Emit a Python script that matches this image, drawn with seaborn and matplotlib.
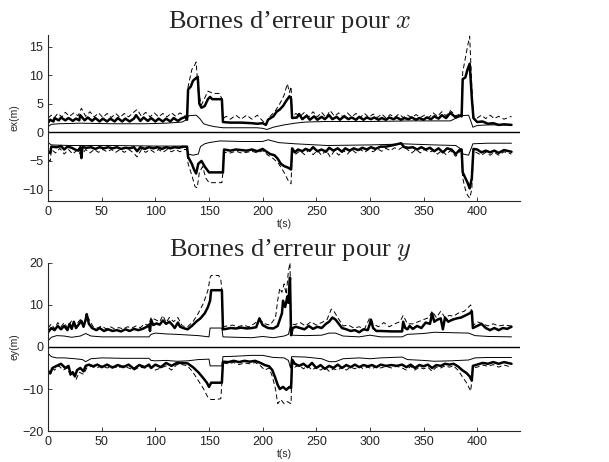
import numpy as np
import pandas as pd
import seaborn as sns
import matplotlib
matplotlib.use("Agg")
import matplotlib.pyplot as plt

# ---- x error bounds (t in s, value in m) ----
ex_hi = [(0,1.7),(2,2.2),(5,1.9),(6,2.5),(10,2.1),(12,2.6),(16,2.1),(19,2.5),(23,2.0),(26,2.4),(29,2.1),(30,3.0),(34,2.1),(37,2.6),(41,2.0),(44,2.5),(48,1.9),(51,2.4),(55,1.9),(58,2.4),(62,1.9),(65,2.5),(69,1.9),(72,2.4),(76,1.9),(80,2.4),(82,3.0),(86,2.0),(89,2.6),(93,2.0),(96,2.5),(100,1.9),(103,2.4),(107,1.9),(110,2.4),(114,1.9),(117,2.5),(121,2.0),(124,2.4),(128,2.7),(129.5,2.2),(130.5,7.5),(133,8.0),(135,9.0),(138,9.5),(139.5,9.7),(141,5.0),(143,4.3),(146,4.6),(149,5.8),(151,6.2),(153,5.8),(162,5.8),(163,1.8),(170,1.7),(180,1.7),(190,1.6),(195,1.5),(200,1.6),(203,1.3),(205,2.2),(210,2.8),(213,3.6),(216,4.0),(219,4.6),(222,5.5),(225,6.3),(226.5,5.9),(227.5,2.5),(232,2.6),(234,3.2),(237,2.3),(241,2.9),(244,2.2),(248,2.8),(251,2.2),(255,2.7),(258,2.3),(262,3.0),(265,2.3),(269,2.7),(272,2.2),(276,2.8),(280,2.3),(283,2.6),(287,2.2),(290,2.7),(294,2.2),(297,2.6),(301,2.3),(304,2.6),(308,2.2),(311,2.5),(315,2.2),(318,2.6),(322,2.3),(325,2.6),(329,2.2),(332,2.5),(336,2.3),(339,2.6),(343,2.2),(346,2.5),(350,2.2),(353,2.6),(357,2.3),(360,2.8),(364,2.4),(367,3.0),(371,2.5),(375,3.4),(380,2.6),(384,2.9),(385.5,2.8),(386.5,9.3),(389,9.6),(391,11.0),(393,12.0),(395,6.0),(396.5,2.5),(400,1.8),(405,1.9),(410,1.5),(415,1.6),(420,1.3),(425,1.4),(432,1.3)]
ex_hi_thin = [(0,1.0),(3,1.4),(10,1.5),(30,1.6),(60,1.5),(90,1.5),(110,1.6),(125,1.8),(129,2.2),(131,2.9),(138,3.0),(141,2.5),(145,1.5),(150,1.2),(155,1.0),(163,0.8),(180,0.8),(195,0.8),(200,0.7),(204,0.5),(210,0.9),(220,1.3),(230,1.6),(240,1.8),(260,1.9),(300,1.9),(340,2.0),(375,2.0),(385,2.9),(392,3.0),(394,2.0),(396,0.9),(400,1.2),(410,1.3),(432,1.3)]
ex_hi_dash = [(0,2.5),(3,3.0),(6,2.6),(9,3.3),(13,2.7),(16,3.5),(20,2.8),(24,3.4),(28,2.9),(31,4.2),(35,2.8),(39,3.6),(43,2.7),(47,3.4),(51,2.6),(55,3.3),(59,2.6),(63,3.3),(67,2.6),(71,3.3),(75,2.7),(79,3.4),(83,4.0),(87,2.8),(91,3.5),(95,2.7),(99,3.4),(103,2.7),(107,3.3),(111,2.7),(115,3.4),(119,2.8),(123,3.4),(127,2.9),(129.5,2.8),(130.5,8.0),(134,11.0),(136,11.5),(138,12.3),(140,7.0),(143,4.8),(146,6.0),(149,7.2),(154,6.8),(160,6.8),(162,5.8),(163,2.4),(166,2.8),(170,2.3),(175,3.0),(180,2.3),(185,3.0),(190,2.3),(195,3.0),(200,2.0),(203,1.5),(207,2.8),(212,3.8),(216,5.0),(220,6.5),(223,8.5),(225,7.0),(226.5,8.0),(227.5,2.8),(231,3.3),(235,2.8),(239,3.5),(243,2.7),(247,3.6),(251,2.7),(255,3.5),(259,2.6),(263,3.8),(267,2.8),(271,3.4),(275,2.7),(279,3.4),(283,2.7),(287,3.3),(291,2.6),(295,3.3),(299,2.6),(303,3.2),(307,2.6),(311,3.2),(315,2.5),(319,3.1),(323,2.6),(327,3.2),(331,2.6),(335,3.0),(339,2.6),(343,3.1),(347,2.6),(351,3.0),(355,2.6),(359,3.4),(363,2.8),(367,3.6),(371,2.9),(375,3.8),(380,2.9),(384,3.2),(385.5,3.0),(386.5,10.5),(389,13.0),(391,15.0),(393,16.8),(395,8.0),(396.5,2.8),(400,2.5),(404,3.0),(408,2.4),(412,3.0),(416,2.4),(420,2.8),(425,2.3),(432,2.8)]
ex_lo = [(0,-3.5),(2,-3.6),(3,-2.5),(8,-2.6),(12,-2.4),(15,-3.0),(18,-2.5),(22,-2.7),(25,-3.0),(28,-3.2),(30,-2.6),(31,-4.5),(32,-2.6),(36,-2.7),(40,-2.6),(44,-2.9),(48,-2.6),(52,-2.8),(56,-2.6),(60,-2.8),(64,-2.6),(68,-2.9),(72,-2.7),(76,-2.8),(80,-2.6),(83,-3.3),(86,-2.6),(90,-2.9),(94,-2.6),(98,-2.8),(102,-2.6),(106,-2.9),(110,-2.6),(114,-2.8),(118,-2.6),(122,-2.7),(126,-2.5),(129.5,-2.5),(130.5,-4.3),(134,-5.5),(136,-6.5),(138,-7.2),(140,-5.5),(143,-5.0),(146,-6.0),(150,-7.0),(163,-7.0),(164,-3.0),(170,-3.2),(175,-3.0),(180,-3.1),(185,-3.2),(190,-3.0),(195,-3.3),(200,-2.9),(203,-3.3),(207,-3.8),(211,-4.0),(214,-4.6),(217,-5.5),(220,-5.9),(224,-6.2),(226.5,-6.5),(227.5,-2.8),(230,-3.5),(233,-3.0),(237,-3.3),(240,-2.9),(244,-3.2),(247,-2.6),(251,-3.3),(255,-3.0),(259,-3.4),(262,-2.7),(266,-3.2),(270,-2.8),(274,-3.4),(277,-2.8),(281,-3.2),(285,-2.8),(289,-3.1),(293,-2.7),(297,-3.0),(301,-2.6),(305,-2.9),(310,-2.5),(315,-2.5),(320,-2.3),(325,-2.1),(329,-1.9),(332,-2.6),(336,-2.7),(340,-2.6),(344,-3.0),(348,-2.6),(352,-3.0),(356,-2.7),(360,-3.3),(364,-2.8),(368,-3.5),(372,-2.8),(376,-3.0),(380,-3.8),(384,-3.0),(385.5,-3.0),(386.5,-7.0),(389,-8.0),(391,-8.8),(393,-9.8),(395,-8.0),(396.5,-2.9),(400,-3.0),(404,-3.5),(408,-3.2),(412,-3.5),(416,-3.2),(420,-3.6),(425,-3.1),(432,-3.4)]
ex_lo_thin = [(0,-1.8),(3,-2.2),(20,-2.3),(60,-2.3),(100,-2.4),(125,-2.4),(129,-2.6),(131,-3.8),(135,-4.0),(140,-3.8),(142,-2.5),(146,-2.0),(150,-1.8),(160,-1.5),(180,-1.6),(200,-1.6),(205,-1.3),(215,-1.8),(230,-2.0),(260,-2.3),(300,-2.2),(320,-2.1),(330,-2.0),(360,-2.2),(380,-2.3),(384,-2.8),(387,-3.8),(392,-4.0),(394,-3.0),(396,-2.0),(410,-1.9),(432,-1.9)]
ex_lo_dash = [(0,-4.8),(2,-5.0),(3,-3.0),(7,-3.6),(11,-2.8),(15,-3.8),(19,-3.0),(23,-3.8),(27,-3.1),(31,-4.0),(35,-3.0),(39,-3.6),(43,-3.0),(47,-3.5),(51,-3.0),(55,-3.4),(59,-3.0),(63,-3.5),(67,-3.0),(71,-3.5),(75,-3.0),(79,-3.5),(83,-4.3),(87,-3.0),(91,-3.5),(95,-3.0),(99,-3.5),(103,-3.0),(107,-3.5),(111,-3.0),(115,-3.4),(119,-3.0),(123,-3.4),(127,-3.0),(129.5,-3.0),(130.5,-5.5),(134,-7.5),(137,-9.5),(139,-9.7),(141,-7.0),(144,-6.0),(147,-8.0),(150,-8.8),(162,-8.8),(163,-7.0),(164,-3.5),(170,-3.6),(175,-3.3),(180,-3.6),(185,-3.5),(190,-3.3),(195,-3.6),(200,-3.2),(205,-4.0),(210,-4.6),(215,-5.5),(220,-7.0),(224,-8.5),(226.5,-9.0),(227.5,-3.2),(231,-3.8),(235,-3.2),(239,-3.9),(243,-3.1),(247,-3.9),(251,-3.2),(255,-4.0),(259,-3.1),(263,-4.3),(267,-3.2),(271,-4.0),(275,-3.1),(279,-3.8),(283,-3.0),(287,-3.6),(291,-3.0),(295,-3.5),(299,-3.0),(303,-3.4),(307,-2.9),(311,-3.3),(315,-2.8),(319,-3.2),(323,-2.7),(327,-3.0),(331,-2.5),(335,-3.0),(339,-3.6),(343,-3.0),(347,-3.6),(351,-3.0),(355,-3.5),(359,-3.2),(363,-3.8),(367,-3.2),(371,-3.9),(375,-3.2),(380,-4.2),(384,-3.3),(385.5,-3.3),(386.5,-8.0),(389,-10.0),(391,-11.0),(393,-11.5),(395,-10.0),(396.5,-3.3),(400,-3.6),(404,-4.0),(408,-3.5),(412,-4.0),(416,-3.5),(420,-4.0),(425,-3.4),(432,-3.8)]

# ---- y error bounds ----
ey_hi = [(0,3.5),(3,4.5),(6,4.0),(9,5.0),(12,4.2),(15,5.0),(18,4.0),(20,5.5),(22,4.3),(24,6.0),(26,4.5),(29,5.5),(31,6.2),(33,4.8),(35,6.5),(36,7.8),(38,5.5),(41,4.5),(45,4.0),(48,4.5),(52,3.8),(56,4.2),(60,3.8),(64,4.0),(68,3.7),(72,4.2),(76,3.8),(80,4.3),(84,4.0),(88,4.3),(92,4.8),(94,5.3),(95,3.8),(96,6.5),(98,5.2),(101,5.6),(104,5.3),(107,6.3),(110,5.5),(113,6.0),(116,5.2),(118,4.5),(121,5.8),(123,4.8),(126,4.5),(130,4.2),(134,5.0),(138,6.0),(142,6.8),(146,8.0),(149,9.5),(151,11.0),(152,13.5),(162,13.5),(163,4.2),(166,4.3),(170,4.5),(175,4.4),(180,4.6),(185,4.4),(190,4.5),(194,4.7),(197,6.8),(200,5.2),(205,4.5),(210,4.4),(214,5.0),(216,6.5),(218,8.0),(219,11.0),(221,9.5),(223,12.0),(224,10.5),(225.5,16.5),(226.5,2.8),(228,4.5),(231,4.8),(235,4.5),(239,4.2),(243,5.0),(247,4.3),(251,4.8),(255,4.5),(259,5.5),(262,6.0),(265,7.0),(268,6.5),(271,5.5),(274,4.5),(278,4.2),(282,3.8),(286,4.0),(290,3.5),(294,4.2),(298,4.0),(300,5.5),(301,6.5),(303,4.5),(306,3.8),(310,3.8),(320,3.7),(330,3.7),(331,6.0),(333,4.5),(335,4.2),(337,5.0),(340,4.3),(344,5.0),(348,4.5),(352,5.8),(356,5.5),(358,8.0),(360,6.0),(363,6.5),(366,6.8),(368,4.2),(370,7.0),(373,6.0),(377,6.5),(381,6.8),(385,7.0),(389,7.5),(393,8.0),(395,8.5),(396,4.5),(400,5.0),(404,5.5),(408,4.5),(412,4.0),(416,4.5),(420,4.0),(424,4.5),(428,4.3),(432,4.8)]
ey_hi_thin = [(0,1.5),(3,2.3),(8,2.7),(15,2.6),(22,2.3),(30,2.6),(35,3.2),(40,2.6),(50,2.4),(70,2.4),(94,2.4),(96,3.0),(100,3.3),(110,3.1),(120,3.0),(140,2.7),(150,2.4),(151,4.5),(162,4.5),(163,2.4),(175,2.3),(190,2.2),(200,2.5),(210,2.2),(220,2.6),(224,3.0),(226,5.0),(227,2.8),(240,2.7),(255,2.8),(262,3.3),(268,3.3),(275,2.6),(290,2.4),(300,2.8),(310,2.4),(330,2.4),(335,3.0),(350,3.2),(360,3.5),(375,3.4),(392,3.3),(398,2.7),(410,2.5),(432,2.4)]
ey_hi_dash = [(0,4.5),(3,5.5),(6,4.3),(9,5.8),(12,4.8),(15,5.8),(18,4.5),(22,6.3),(25,5.0),(30,6.5),(33,5.0),(36,7.5),(39,6.2),(42,4.8),(46,4.5),(50,5.0),(54,4.3),(58,4.8),(62,4.3),(66,4.6),(70,4.3),(74,4.8),(78,4.5),(82,5.0),(86,4.6),(90,5.5),(94,5.0),(96,7.0),(100,6.5),(104,6.0),(107,7.5),(110,5.8),(113,7.0),(117,6.0),(121,7.0),(125,5.0),(130,4.8),(135,6.0),(140,8.0),(145,10.5),(149,13.5),(151,16.5),(152,17.0),(159,17.0),(161,16.0),(162,13.5),(163,4.8),(167,5.0),(172,5.2),(177,4.8),(182,5.2),(187,4.8),(192,5.5),(197,6.5),(202,5.5),(207,5.2),(212,7.0),(214,11.0),(216,14.0),(218,13.0),(220,15.0),(222,12.5),(224,18.0),(225.5,20.0),(226.5,5.5),(230,5.3),(235,5.8),(240,5.0),(245,6.0),(250,5.2),(255,5.8),(260,6.5),(264,9.0),(266,8.7),(270,7.0),(275,5.0),(280,5.2),(285,4.5),(290,4.8),(295,4.3),(300,7.0),(303,5.5),(308,4.8),(313,5.8),(318,4.8),(323,5.5),(328,6.0),(331,7.5),(335,5.5),(340,5.5),(345,6.0),(350,6.5),(355,7.0),(358,8.5),(362,7.0),(366,8.5),(370,7.0),(374,7.5),(378,7.3),(382,8.0),(388,8.5),(394,10.0),(396,5.0),(400,6.0),(405,5.5),(410,5.0),(415,5.5),(420,5.0),(425,5.2),(432,5.0)]
ey_lo = [(0,-6.0),(2,-6.3),(4,-5.0),(8,-4.5),(12,-4.0),(16,-5.0),(19,-4.5),(21,-6.5),(23,-6.0),(25,-7.0),(27,-5.5),(30,-5.0),(33,-5.8),(35,-4.5),(38,-4.2),(42,-4.6),(46,-4.2),(50,-4.8),(55,-4.2),(60,-4.9),(65,-4.3),(70,-4.8),(75,-4.2),(80,-5.2),(85,-4.3),(90,-4.8),(94,-4.2),(96,-5.0),(100,-4.2),(105,-4.8),(110,-3.8),(115,-4.5),(120,-3.8),(125,-3.8),(130,-3.9),(135,-4.8),(140,-6.0),(144,-7.2),(148,-8.5),(150,-9.5),(152,-8.5),(162,-8.5),(163,-3.5),(168,-3.6),(173,-3.3),(178,-3.6),(183,-3.3),(188,-3.5),(193,-3.3),(198,-3.8),(202,-4.3),(206,-4.6),(209,-5.5),(212,-7.5),(214,-9.0),(216,-10.0),(219,-9.5),(222,-10.2),(225,-9.5),(226.5,-9.8),(227.5,-3.0),(230,-4.0),(234,-4.5),(238,-4.0),(242,-4.8),(246,-3.8),(250,-5.0),(254,-4.3),(258,-5.2),(262,-4.5),(266,-5.0),(270,-4.2),(274,-5.0),(278,-4.3),(282,-4.8),(286,-4.2),(290,-4.8),(294,-4.3),(298,-4.6),(302,-4.3),(306,-4.8),(310,-4.2),(315,-4.5),(320,-4.3),(325,-4.5),(330,-4.2),(334,-4.8),(338,-4.2),(342,-5.0),(346,-4.3),(350,-4.6),(354,-4.2),(358,-5.0),(362,-4.3),(366,-4.5),(370,-4.0),(374,-4.2),(378,-4.0),(382,-4.6),(386,-5.5),(390,-6.2),(393,-7.0),(395,-8.0),(396,-4.5),(400,-4.2),(405,-3.8),(410,-4.0),(415,-3.6),(420,-4.0),(425,-3.6),(432,-4.0)]
ey_lo_thin = [(0,-1.5),(3,-2.3),(8,-2.6),(15,-2.6),(25,-2.8),(32,-3.0),(35,-3.5),(40,-2.8),(50,-2.6),(70,-2.7),(94,-2.7),(96,-3.2),(100,-3.3),(110,-3.2),(120,-3.4),(130,-3.3),(140,-3.0),(150,-2.9),(151,-4.5),(162,-4.5),(163,-2.3),(175,-2.2),(190,-2.0),(200,-2.0),(210,-2.5),(220,-2.6),(224,-3.2),(226,-5.0),(227,-2.3),(240,-2.4),(255,-2.8),(262,-3.5),(268,-3.5),(275,-2.8),(290,-2.6),(300,-2.8),(310,-2.6),(330,-2.4),(335,-3.0),(350,-3.2),(360,-3.4),(375,-3.3),(392,-3.1),(398,-2.6),(410,-2.5),(432,-2.5)]
ey_lo_dash = [(0,-6.5),(3,-5.0),(6,-5.5),(10,-4.5),(14,-5.5),(18,-5.0),(21,-7.0),(24,-6.5),(26,-7.8),(29,-6.0),(33,-6.5),(36,-5.0),(40,-4.6),(45,-5.0),(50,-4.5),(55,-5.0),(60,-4.6),(65,-5.0),(70,-4.5),(75,-5.0),(80,-5.5),(85,-4.8),(90,-5.0),(95,-4.6),(100,-5.5),(105,-5.0),(110,-4.5),(115,-5.5),(120,-4.2),(125,-4.2),(130,-4.5),(135,-6.0),(140,-8.0),(145,-10.0),(149,-12.0),(152,-12.5),(157,-12.5),(161,-12.3),(162,-8.5),(163,-3.8),(168,-4.0),(173,-3.7),(178,-4.2),(183,-3.8),(188,-4.0),(193,-3.7),(198,-4.5),(202,-5.5),(206,-5.0),(209,-7.0),(212,-10.0),(214,-13.5),(217,-12.5),(220,-13.5),(223,-13.0),(226.5,-13.5),(227.5,-3.3),(230,-4.8),(234,-4.3),(238,-5.2),(242,-4.5),(246,-5.5),(250,-4.8),(254,-5.5),(258,-4.8),(262,-5.8),(266,-5.2),(270,-5.5),(274,-4.8),(278,-5.5),(282,-4.8),(286,-5.2),(290,-4.6),(294,-5.2),(298,-4.8),(302,-5.2),(306,-4.6),(310,-5.0),(315,-4.6),(320,-5.0),(325,-4.6),(330,-5.0),(334,-5.5),(338,-4.6),(342,-5.5),(346,-4.8),(350,-5.2),(354,-4.8),(358,-5.8),(362,-4.8),(366,-5.0),(370,-4.5),(374,-4.8),(378,-4.5),(382,-5.5),(386,-7.0),(390,-8.5),(394,-10.5),(396,-5.0),(400,-4.8),(405,-4.3),(410,-4.6),(415,-4.2),(420,-4.8),(425,-4.3),(432,-4.8)]

sns.set_style("ticks")
plt.rcParams['font.family'] = ['Liberation Sans', 'DejaVu Sans']
plt.rcParams['mathtext.fontset'] = 'cm'
plt.rcParams['xtick.direction'] = 'in'
plt.rcParams['ytick.direction'] = 'in'


def draw(ax, pts, lw, ls='-'):
    df = pd.DataFrame(pts, columns=['t', 'v'])
    sns.lineplot(data=df, x='t', y='v', ax=ax, color='k', lw=lw, linestyle=ls,
                 estimator=None, sort=False)


def panel(ax, series, ylim, yticks, ylabel, var):
    hi, hi_thin, hi_dash, lo, lo_thin, lo_dash = series
    for d in (hi_dash, lo_dash):
        draw(ax, d, 0.7, (0, (5, 3)))
    for d in (hi_thin, lo_thin):
        draw(ax, d, 0.7)
    for d in (hi, lo):
        draw(ax, d, 1.8)
    ax.axhline(0, color='k', lw=1.0)
    ax.set_xlim(0, 440)
    ax.set_ylim(*ylim)
    ax.set_xticks(range(0, 401, 50))
    ax.set_yticks(yticks)
    ax.tick_params(labelsize=9, length=3, width=0.6, colors='#222222')
    for s in ('top', 'right'):
        ax.spines[s].set_visible(False)
    for s in ('left', 'bottom'):
        ax.spines[s].set_linewidth(0.8)
    ax.set_xlabel('t(s)', fontsize=7.5, labelpad=1)
    ax.set_ylabel(ylabel, fontsize=7.5, labelpad=2)
    ax.set_title("Bornes d\u2019erreur pour $%s$" % var, fontsize=19,
                 family='Liberation Serif', x=0.513, pad=3)


fig = plt.figure(figsize=(6.09, 4.62), dpi=100)
ax1 = fig.add_axes([0.079, 0.565, 0.775, 0.359])
ax2 = fig.add_axes([0.079, 0.067, 0.775, 0.364])

panel(ax1, (ex_hi, ex_hi_thin, ex_hi_dash, ex_lo, ex_lo_thin, ex_lo_dash),
      (-12, 17), [-10, -5, 0, 5, 10, 15], 'ex(m)', 'x')
panel(ax2, (ey_hi, ey_hi_thin, ey_hi_dash, ey_lo, ey_lo_thin, ey_lo_dash),
      (-20, 20), [-20, -10, 0, 10, 20], 'ey(m)', 'y')

fig.savefig('out.png', dpi=100)
